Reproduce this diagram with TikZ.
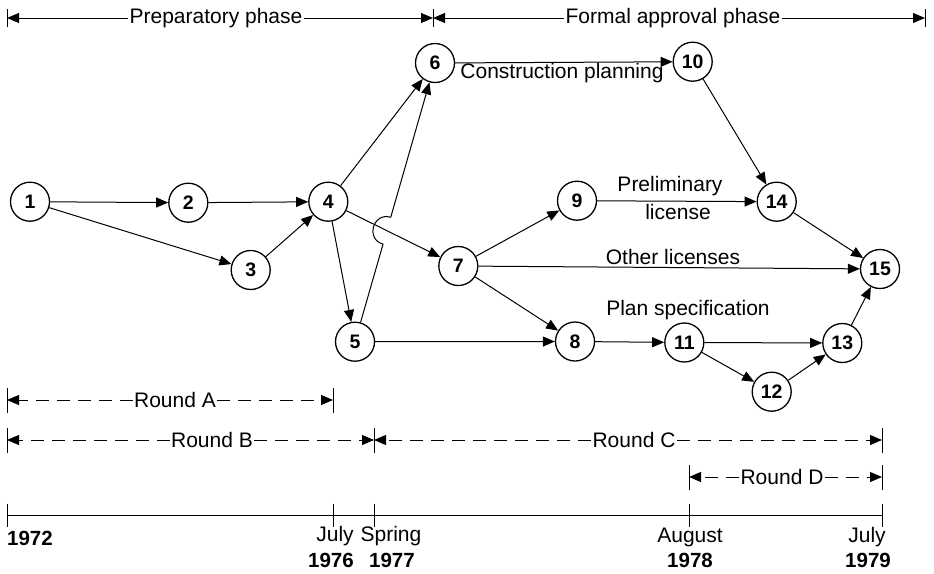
\documentclass[tikz,border=0pt]{standalone}
\usepackage{fontspec}
\setmainfont{Liberation Sans}
\usetikzlibrary{arrows.meta,calc}

\begin{document}
\begin{tikzpicture}[x=1pt,y=-1pt,
  event/.style={circle,draw,line width=1.3pt,minimum size=39pt,inner sep=0pt,
    font=\fontsize{19.5}{22}\selectfont\bfseries},
  act/.style={line width=1pt,-{Triangle[length=12pt,width=10pt]}},
  lbl/.style={font=\fontsize{21}{24}\selectfont,inner sep=0pt},
  yr/.style={font=\fontsize{20.5}{24}\selectfont\bfseries,inner sep=0pt},
  span/.style={line width=1pt},
  roundspan/.style={line width=1pt,dash pattern=on 13pt off 8pt},
  tip/.style={-{Triangle[length=12pt,width=10pt]}},
  tick/.style={line width=1pt}]
\useasboundingbox (0,0) rectangle (934,573);

% events
\node[event] (n1)  at (30,201.7)  {1};
\node[event] (n2)  at (188.3,202.7) {2};
\node[event] (n3)  at (250.7,270) {3};
\node[event] (n4)  at (328.3,201.7) {4};
\node[event] (n5)  at (355,341.7) {5};
\node[event] (n6)  at (435,63)    {6};
\node[event] (n7)  at (458.3,266) {7};
\node[event] (n8)  at (575,341.5) {8};
\node[event] (n9)  at (577,200.7) {9};
\node[event] (n10) at (692.7,61.7) {10};
\node[event] (n11) at (684.3,342.5) {11};
\node[event] (n12) at (771.7,391.7) {12};
\node[event] (n13) at (842.3,343) {13};
\node[event] (n14) at (776.7,201.7) {14};
\node[event] (n15) at (880,269)   {15};

% activities
\draw[act] (n1) -- (n2);
\draw[act] (n1) -- (n3);
\draw[act] (n2) -- (n4);
\draw[act] (n3) -- (n4);
\draw[act] (n4) -- (n5);
\draw[act] (n4) -- (n6);
\draw[act] (n4) -- (n7);
% 5 -> 6 hops over the 4 -> 7 line
\coordinate (cr) at (intersection of n5--n6 and n4--n7);
\coordinate (hs) at ($(cr)!14pt!(n5)$);
\coordinate (he) at ($(cr)!14pt!(n6)$);
\coordinate (c1) at ($(hs)!18.7pt!90:(cr)$);
\coordinate (c2) at ($(he)!18.7pt!-90:(cr)$);
\draw[act] (n5) -- (hs) .. controls (c1) and (c2) .. (he) -- (n6);
\draw[act] (n5) -- (n8);
\draw[act] (n6) -- (n10);
\draw[act] (n7) -- (n9);
\draw[act] (n7) -- (n8);
\draw[act] (n7) -- (n15);
\draw[act] (n9) -- (n14);
\draw[act] (n10) -- (n14);
\draw[act] (n14) -- (n15);
\draw[act] (n8) -- (n11);
\draw[act] (n11) -- (n13);
\draw[act] (n11) -- (n12);
\draw[act] (n12) -- (n13);
\draw[act] (n13) -- (n15);

% activity labels
\node[lbl] (lcp) at (562,73) {Construction planning};
\node[lbl] (lpl) at (670,186) {Preliminary};
\node[lbl] (lli) at (678,212) {license};
\node[lbl] (lol) at (673,257) {Other licenses};
\node[lbl] (lps) at (688,310) {Plan specification};

% phases along the top
\coordinate (p0) at (7,18);
\coordinate (p1) at (433,18);
\coordinate (p2) at (925,18);
\node[lbl,fill=white,inner xsep=1pt] (lprep) at (216,18) {Preparatory phase};
\node[lbl,fill=white,inner xsep=1pt] (lform) at (673,18) {Formal approval phase};
\draw[span,tip] (lprep.west) -- (p0);
\draw[span,tip] (lprep.east) -- (p1);
\draw[span,tip] (lform.west) -- (p1);
\draw[span,tip] (lform.east) -- (p2);
\foreach \p in {p0,p1,p2}
  \draw[tick] ($(\p)+(0,-9)$) -- ($(\p)+(0,9)$);

% Delphi rounds
\coordinate (ra0) at (7,400);
\coordinate (ra1) at (333,400);
\coordinate (rb0) at (7,440);
\coordinate (rb1) at (374,440);
\coordinate (rc1) at (882,440);
\coordinate (rd0) at (689,477);
\coordinate (rd1) at (882,477);
\node[lbl,fill=white,inner xsep=1pt] (lra) at (175,400) {Round A};
\node[lbl,fill=white,inner xsep=1pt] (lrb) at (212,440) {Round B};
\node[lbl,fill=white,inner xsep=1pt] (lrc) at (634,440) {Round C};
\node[lbl,fill=white,inner xsep=1pt] (lrd) at (782,477) {Round D};
\draw[roundspan,tip] (lra.west) -- (ra0);
\draw[roundspan,tip] (lra.east) -- (ra1);
\draw[roundspan,tip] (lrb.west) -- (rb0);
\draw[roundspan,tip] (lrb.east) -- (rb1);
\draw[roundspan,tip] (lrc.west) -- (rb1);
\draw[roundspan,tip] (lrc.east) -- (rc1);
\draw[roundspan,tip] (lrd.west) -- (rd0);
\draw[roundspan,tip] (lrd.east) -- (rd1);
\foreach \p in {ra0,ra1,rb0,rb1,rc1,rd0,rd1}
  \draw[tick] ($(\p)+(0,-12)$) -- ($(\p)+(0,13)$);

% time axis
\coordinate (t0) at (7,515.5);
\coordinate (t1) at (333,515.5);
\coordinate (t2) at (374,515.5);
\coordinate (t3) at (689,515.5);
\coordinate (t4) at (882,515.5);
\draw[line width=1pt] (t0) -- (t4);
\foreach \p in {t0,t1,t2,t3,t4}
  \draw[tick] ($(\p)+(0,-12)$) -- ($(\p)+(0,11)$);

\node[yr,anchor=west] (y0) at (7,538) {1972};
\node[lbl] (m1) at (335,536) {July};
\node[yr] (y1) at (331,560) {1976};
\node[lbl] (m2) at (391,536) {Spring};
\node[yr] (y2) at (392,560) {1977};
\node[lbl] (m3) at (690,537) {August};
\node[yr] (y3) at (690,560) {1978};
\node[lbl] (m4) at (867,537) {July};
\node[yr] (y4) at (868,560) {1979};
\end{tikzpicture}
\end{document}
